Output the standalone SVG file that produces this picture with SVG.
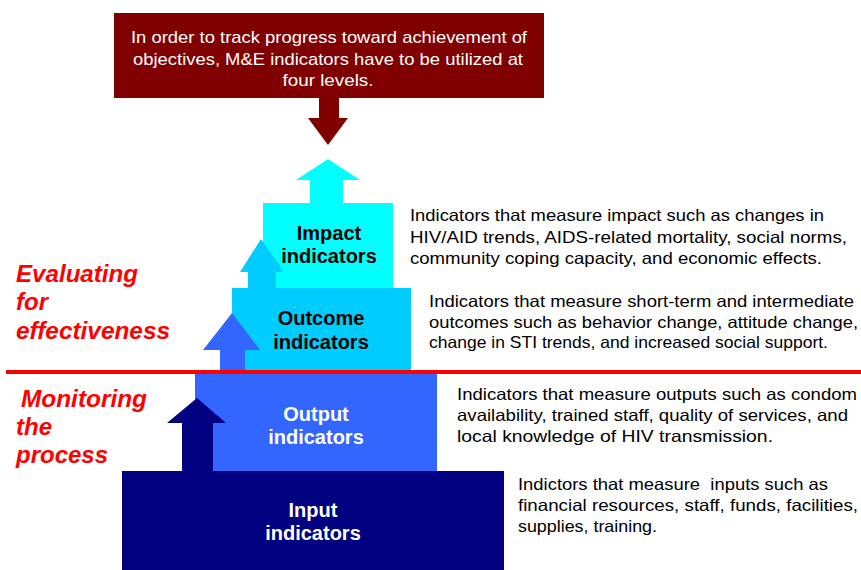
<svg xmlns="http://www.w3.org/2000/svg" width="861" height="570" viewBox="0 0 861 570">
<style>
.desc{font-family:"Liberation Sans",Arial,sans-serif;font-size:16.5px;fill:#000}
.lbl{font-family:"Liberation Sans",Arial,sans-serif;font-size:20px;font-weight:bold;text-anchor:middle}
.side{font-family:"Liberation Sans",Arial,sans-serif;font-size:24px;font-weight:bold;font-style:italic;fill:#ff0000}
.top{font-family:"Liberation Sans",Arial,sans-serif;font-size:17px;fill:#fff;text-anchor:middle}
</style>
<rect width="861" height="570" fill="#fff"/>
<g id="input">
<rect x="122" y="471" width="382" height="99" fill="#000080"/>
<text class="lbl" fill="#fff"><tspan x="313" y="517">Input</tspan><tspan x="313" y="540">indicators</tspan></text>
</g>
<g id="output">
<rect x="195" y="370" width="242" height="101" fill="#3366ff"/>
<text class="lbl" fill="#fff"><tspan x="316" y="421">Output</tspan><tspan x="316" y="444">indicators</tspan></text>
</g>
<g id="outcome">
<rect x="232" y="288" width="179" height="84" fill="#00ccff"/>
<text class="lbl" fill="#000"><tspan x="321" y="325">Outcome</tspan><tspan x="321" y="349">indicators</tspan></text>
</g>
<g id="impact">
<rect x="263" y="203" width="130" height="85" fill="#00ffff"/>
<text class="lbl" fill="#000"><tspan x="329" y="240">Impact</tspan><tspan x="329" y="263">indicators</tspan></text>
</g>
<g id="objective">
<rect x="114" y="13" width="430" height="85" fill="#800000"/>
<text class="top" x="329" y="43" textLength="396" lengthAdjust="spacingAndGlyphs">In order to track progress toward achievement of</text>
<text class="top" x="328" y="65" textLength="390" lengthAdjust="spacingAndGlyphs">objectives, M&amp;E indicators have to be utilized at</text>
<text class="top" x="328" y="86" textLength="91" lengthAdjust="spacingAndGlyphs">four levels.</text>
</g>
<g id="connectors">
<polygon points="319,98 339,98 339,118 348,118 328,145 308,118 319,118" fill="#800000"/>
<polygon points="310,203 310,180 296,180 328,159 360,180 343,180 343,203" fill="#00ffff"/>
<polygon points="248,288 248,272 240,272 261,239 284,272 276,272 276,288" fill="#00ccff"/>
<polygon points="220,372 220,350 203,350 232,313 260,350 245,350 245,372" fill="#3366ff"/>
<polygon points="182,471 182,423 167,423 197,398 226,423 213,423 213,471" fill="#000080"/>
</g>
<g id="divider">
<rect x="6" y="370" width="855" height="4" fill="#ff0000"/>
</g>
<g id="side-labels">
<text class="side" x="16" y="282" textLength="122" lengthAdjust="spacingAndGlyphs">Evaluating</text>
<text class="side" x="16" y="310">for</text>
<text class="side" x="16" y="339" textLength="154" lengthAdjust="spacingAndGlyphs">effectiveness</text>
<text class="side" x="21" y="407" textLength="126" lengthAdjust="spacingAndGlyphs">Monitoring</text>
<text class="side" x="16" y="435">the</text>
<text class="side" x="16" y="463" textLength="92" lengthAdjust="spacingAndGlyphs">process</text>
</g>
<g id="descriptions">
<text class="desc" x="410" y="221" textLength="414" lengthAdjust="spacingAndGlyphs">Indicators that measure impact such as changes in</text>
<text class="desc" x="410" y="243" textLength="437" lengthAdjust="spacingAndGlyphs">HIV/AID trends, AIDS-related mortality, social norms,</text>
<text class="desc" x="410" y="264" textLength="412" lengthAdjust="spacingAndGlyphs">community coping capacity, and economic effects.</text>
<text class="desc" x="429" y="307" textLength="425" lengthAdjust="spacingAndGlyphs">Indicators that measure short-term and intermediate</text>
<text class="desc" x="429" y="328" textLength="429" lengthAdjust="spacingAndGlyphs">outcomes such as behavior change, attitude change,</text>
<text class="desc" x="429" y="348" textLength="399" lengthAdjust="spacingAndGlyphs">change in STI trends, and increased social support.</text>
<text class="desc" x="457" y="400" textLength="400" lengthAdjust="spacingAndGlyphs">Indicators that measure outputs such as condom</text>
<text class="desc" x="457" y="421" textLength="391" lengthAdjust="spacingAndGlyphs">availability, trained staff, quality of services, and</text>
<text class="desc" x="457" y="442" textLength="316" lengthAdjust="spacingAndGlyphs">local knowledge of HIV transmission.</text>
<text class="desc" x="518" y="490" textLength="310" lengthAdjust="spacingAndGlyphs" xml:space="preserve">Indictors that measure  inputs such as</text>
<text class="desc" x="518" y="511" textLength="340" lengthAdjust="spacingAndGlyphs">financial resources, staff, funds, facilities,</text>
<text class="desc" x="518" y="532" textLength="139" lengthAdjust="spacingAndGlyphs">supplies, training.</text>
</g>
</svg>
